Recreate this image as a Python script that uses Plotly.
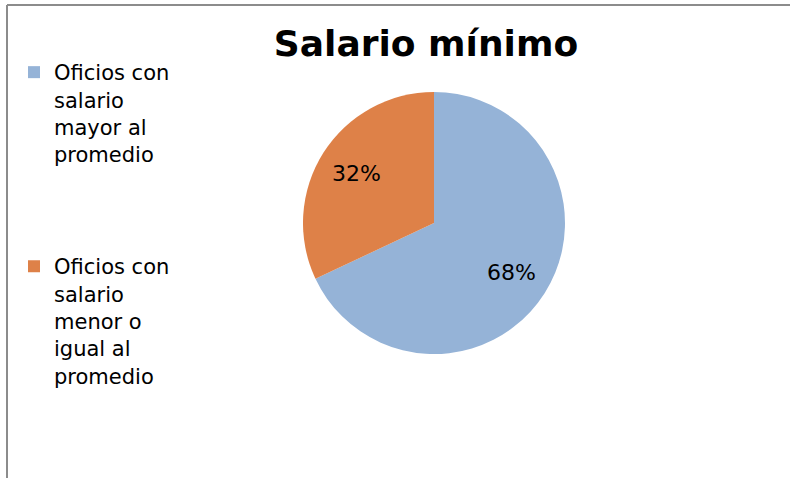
import math
import plotly.graph_objects as go

# ── Data ──────────────────────────────────────────────────────────────────────

labels = [
    "Oficios con<br>salario<br>mayor al<br>promedio",
    "Oficios con<br>salario<br>menor o<br>igual al<br>promedio",
]
values = [68, 32]
colors = ["#95B3D7", "#DE8148"]

TITLE = "Salario mínimo"
W, H = 790, 478

# blank lines after the first entry to space the legend like the original
gap = "<br>\u00a0" * 3
legend_names = [labels[0] + gap, labels[1]]

# ── Figure ────────────────────────────────────────────────────────────────────

cx, cy, r = 434, 223, 131  # pie centre / radius in pixels

fig = go.Figure(
    go.Pie(
        labels=legend_names,
        values=values,
        marker=dict(colors=colors, line=dict(width=0)),
        sort=False,
        direction="clockwise",
        rotation=0,
        textinfo="none",
        domain=dict(
            x=[(cx - r) / W, (cx + r) / W],
            y=[(H - cy - r) / H, (H - cy + r) / H],
        ),
        hoverinfo="label+percent",
    )
)

# percentage labels sit at ~70% of the radius, on each slice's mid-angle
total = sum(values)
start = 0.0
for v in values:
    mid = (start + v / 2) / total * 2 * math.pi  # clockwise from 12 o'clock
    start += v
    px = cx + 0.7 * r * math.sin(mid)
    py = cy - 0.7 * r * math.cos(mid)
    fig.add_annotation(
        x=px / W, y=1 - py / H, xref="paper", yref="paper",
        text=f"{round(v / total * 100)}%", showarrow=False,
        font=dict(family="DejaVu Sans", size=22, color="black"),
    )

fig.update_layout(
    width=W,
    height=H,
    margin=dict(l=0, r=0, t=0, b=0),
    paper_bgcolor="white",
    plot_bgcolor="white",
    title=dict(
        text="<b>" + TITLE + "</b>",
        x=426 / W, xanchor="center",
        y=1 - 43 / H, yanchor="middle",
        font=dict(family="DejaVu Sans", size=36, color="black"),
    ),
    legend=dict(
        x=14 / W, xanchor="left",
        y=1 - 52 / H, yanchor="top",
        valign="top",
        font=dict(family="DejaVu Sans", size=21, color="black"),
        bgcolor="rgba(0,0,0,0)",
    ),
    shapes=[
        # chart frame (top and left edges visible in the crop)
        dict(type="line", xref="paper", yref="paper",
             x0=7 / W, x1=1.02, y0=1 - 5 / H, y1=1 - 5 / H,
             line=dict(color="#8c8c8c", width=2)),
        dict(type="line", xref="paper", yref="paper",
             x0=7 / W, x1=7 / W, y0=1 - 5 / H, y1=-0.02,
             line=dict(color="#8c8c8c", width=2)),
    ],
)

# drop the page's default body margin so the figure sits at the window origin
fig.write_html(
    "out.html",
    config={"displayModeBar": False},
    post_script="document.body.style.margin = '0px';",
)
